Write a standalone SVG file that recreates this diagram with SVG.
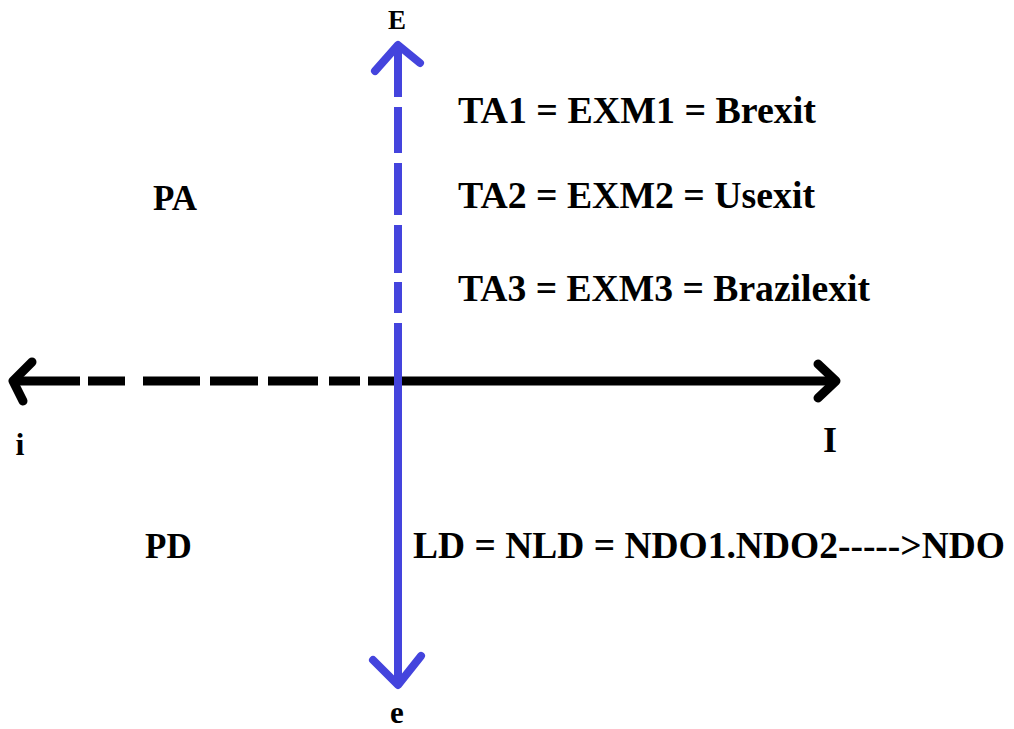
<svg xmlns="http://www.w3.org/2000/svg" width="1014" height="729" viewBox="0 0 1014 729">
  <style>
    .lbl { font-family: "Liberation Serif", "Times New Roman", serif; font-weight: bold; fill: #000; }
    .axis-h { stroke: #000; stroke-width: 9; fill: none; }
    .axis-v { stroke: #4444dd; stroke-width: 8; fill: none; }
    .head { stroke-linecap: round; stroke-linejoin: round; }
  </style>
  <rect width="1014" height="729" fill="#fff"/>

  <!-- axes (connectors) -->
  <g id="connectors">
    <g id="axis-horizontal" class="axis-h">
      <path d="M12 381H80 M88 381H125 M143 381H200 M210 381H258 M268 381H318 M329 381H360 M368 381H836"/>
      <polyline class="head" points="32,362 13,381 23,401"/>
      <polyline class="head" points="818,364 836,381 818,398"/>
    </g>
    <g id="axis-vertical" class="axis-v">
      <path d="M398 46V97 M398 107V153 M398 163V215 M398 225V273 M398 282V313 M398 323V684"/>
      <polyline class="head" points="375,71 398,45 420,63"/>
      <polyline class="head" points="373,660 398,685 421,656"/>
    </g>
  </g>

  <!-- axis end labels -->
  <g id="label-E"><text class="lbl" x="397" y="29" font-size="27" text-anchor="middle">E</text></g>
  <g id="label-e"><text class="lbl" x="397" y="723" font-size="31" text-anchor="middle">e</text></g>
  <g id="label-i"><text class="lbl" x="20" y="455" font-size="32" text-anchor="middle">i</text></g>
  <g id="label-I"><text class="lbl" x="830" y="452" font-size="36" text-anchor="middle">I</text></g>

  <!-- quadrant labels -->
  <g id="label-PA"><text class="lbl" x="153" y="210" font-size="35">PA</text></g>
  <g id="label-PD"><text class="lbl" x="145" y="558" font-size="35">PD</text></g>

  <!-- definitions -->
  <g id="text-TA1"><text class="lbl" x="458" y="123" font-size="37" textLength="358" lengthAdjust="spacingAndGlyphs">TA1 = EXM1 = Brexit</text></g>
  <g id="text-TA2"><text class="lbl" x="458" y="208" font-size="37" textLength="357" lengthAdjust="spacingAndGlyphs">TA2 = EXM2 = Usexit</text></g>
  <g id="text-TA3"><text class="lbl" x="458" y="301" font-size="37" textLength="412" lengthAdjust="spacingAndGlyphs">TA3 = EXM3 = Brazilexit</text></g>
  <g id="text-LD"><text class="lbl" x="413" y="558" font-size="38" textLength="592" lengthAdjust="spacingAndGlyphs">LD = NLD = NDO1.NDO2-----&gt;NDO</text></g>
</svg>
